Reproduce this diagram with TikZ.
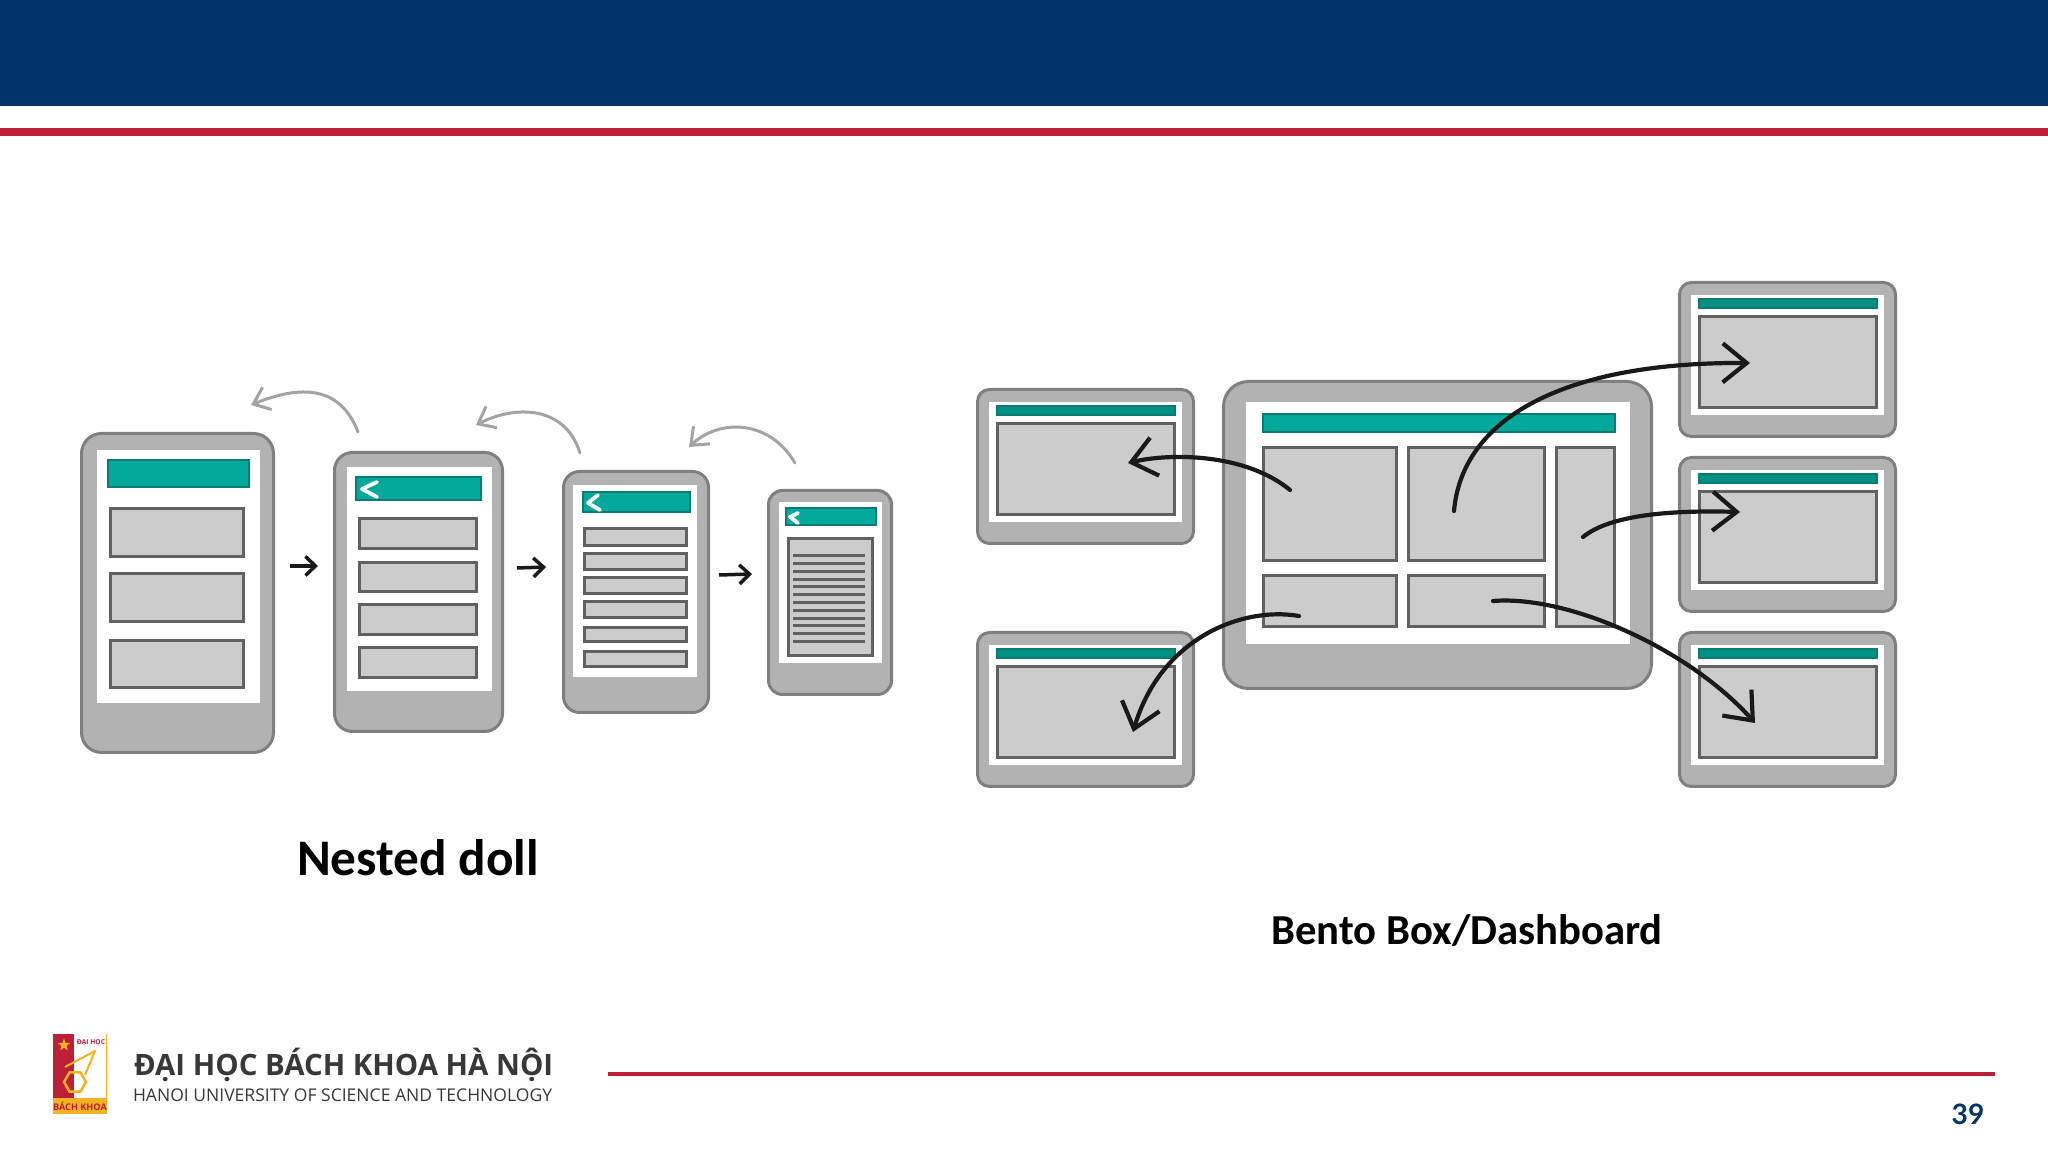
\documentclass[tikz,border=0pt]{standalone}
\usepackage{fontspec}
\setmainfont{Carlito}
\newfontfamily\logofont{Open Sans}
\newfontfamily\numfont{Lato}
\usepackage{tikz}
\usetikzlibrary{arrows.meta, shapes.geometric}
\definecolor{navy}{HTML}{003366}
\definecolor{crimson}{HTML}{BE1E37}
\definecolor{shell}{HTML}{B2B2B2}
\definecolor{shellline}{HTML}{7F7F7F}
\definecolor{card}{HTML}{CCCCCC}
\definecolor{cardline}{HTML}{616161}
\definecolor{teal}{HTML}{00A99A}
\definecolor{tealline}{HTML}{0B7A70}
\definecolor{badge}{HTML}{F4B223}
\tikzset{
every node/.style={anchor=north west,inner sep=0pt,outer sep=0pt},
wh/.style 2 args={minimum width=#1*0.1mm,minimum height=#2*0.1mm},
rim/.style 2 args={minimum width=(#1-3)*0.1mm,minimum height=(#2-3)*0.1mm,xshift=0.15mm,yshift=-0.15mm},
device/.style={draw=shellline,fill=shell,line width=0.3mm,rounded corners=#1*0.1mm},
screen/.style={fill=white},
topbar/.style={fill=teal,draw=tealline,line width=0.2mm},
thinbar/.style={fill=teal!85!black,draw=tealline,line width=0.2mm},
cardbox/.style={fill=card,draw=cardline,line width=0.3mm},
back/.style={white,line width=0.38mm,line cap=round,line join=round},
textline/.style={cardline,line width=0.3mm},
nextarrow/.style={->,>={Straight Barb[length=1mm,width=1.9mm]},line width=0.35mm,black!90},
backarrow/.style={->,>={Straight Barb[length=1.5mm,width=2.4mm]},line width=0.3mm,black!36,line cap=round},
openarrow/.style={->,>={Straight Barb[length=2.4mm,width=3.9mm]},line width=0.42mm,black!90,line cap=round},
}

\begin{document}
\begin{tikzpicture}[x=0.1mm,y=-0.1mm]
\useasboundingbox (0,0) rectangle (2048,1152);
% header
\fill[navy] (0,0) rectangle (2048,106);
\fill[crimson] (0,128) rectangle (2048,136);

% nested doll
\node[device=20,rim={195}{322}] (phone1) at (80,432) {};
\node[screen,wh={163}{253}] (screen1) at (97,450) {};
\node[topbar,rim={144}{30}] (bar1) at (106,459) {};
\node[cardbox,rim={136}{51}] (card11) at (109,507) {};
\node[cardbox,rim={136}{51}] (card12) at (109,572) {};
\node[cardbox,rim={136}{50}] (card13) at (109,639) {};

\node[device=18,rim={171}{282}] (phone2) at (333,451) {};
\node[screen,wh={145}{224}] (screen2) at (347,467) {};
\node[topbar,rim={128}{26}] (bar2) at (354,476) {};
\node[cardbox,rim={120}{33}] (card21) at (358,517) {};
\node[cardbox,rim={120}{32}] (card22) at (358,561) {};
\node[cardbox,rim={120}{33}] (card23) at (358,603) {};
\node[cardbox,rim={120}{33}] (card24) at (358,646) {};
\draw[back] (377,482) -- (362,489) -- (377,497);

\node[device=16,rim={148}{244}] (phone3) at (562,470) {};
\node[screen,wh={124}{192}] (screen3) at (573,485) {};
\node[topbar,rim={110}{23}] (bar3) at (581,491) {};
\node[cardbox,rim={105}{20}] (card31) at (583,527) {};
\node[cardbox,rim={105}{19}] (card32) at (583,552) {};
\node[cardbox,rim={105}{19}] (card33) at (583,576) {};
\node[cardbox,rim={105}{19}] (card34) at (583,600) {};
\node[cardbox,rim={105}{17}] (card35) at (583,626) {};
\node[cardbox,rim={105}{18}] (card36) at (583,650) {};
\draw[back] (598,495) -- (588,503) -- (600,510);

\node[device=14,rim={126}{207}] (phone4) at (767,489) {};
\node[screen,wh={103}{161}] (screen4) at (779,502) {};
\node[topbar,rim={93}{20}] (bar4) at (784,507) {};
\node[cardbox,rim={87}{120}] (card41) at (787,537) {};
\draw[back] (798,513) -- (790,517) -- (798,523);
\draw[textline] (793,556) -- (865,556) (793,564) -- (865,564) (793,572) -- (865,572)
(793,580) -- (865,580) (793,587) -- (865,587) (793,595) -- (865,595)
(793,603) -- (865,603) (793,611) -- (865,611) (793,619) -- (865,619)
(793,626) -- (865,626) (793,634) -- (865,634) (793,642) -- (865,642);

\coordinate (go1a) at (290,566);
\coordinate (go1b) at (318,566);
\coordinate (go2a) at (517,568);
\coordinate (go2b) at (546,567);
\coordinate (go3a) at (719,575);
\coordinate (go3b) at (752,574);
\draw[nextarrow] (go1a) -- (go1b);
\draw[nextarrow] (go2a) -- (go2b);
\draw[nextarrow] (go3a) -- (go3b);

\coordinate (up1a) at (358,432);
\coordinate (up1b) at (251,405);
\coordinate (up2a) at (580,453);
\coordinate (up2b) at (476,425);
\coordinate (up3a) at (795,463);
\coordinate (up3b) at (689,447);
\draw[backarrow] (up1a) .. controls (340,385) and (300,385) .. (up1b);
\draw[backarrow] (up2a) .. controls (565,405) and (515,405) .. (up2b);
\draw[backarrow] (up3a) .. controls (770,420) and (720,418) .. (up3b);

% bento box
\node[device=25,rim={431}{310}] (main) at (1222,380) {};
\node[screen,wh={384}{242}] (mainscreen) at (1246,402) {};
\node[topbar,rim={355}{21}] (mainbar) at (1261,413) {};
\node[cardbox,rim={136}{116}] (cella) at (1262,446) {};
\node[cardbox,rim={139}{116}] (cellb) at (1407,446) {};
\node[cardbox,rim={61}{182}] (cellc) at (1555,446) {};
\node[cardbox,rim={136}{54}] (celld) at (1262,574) {};
\node[cardbox,rim={139}{54}] (celle) at (1407,574) {};

\node[device=12,rim={219}{157}] (left1) at (976,388) {};
\node[screen,wh={193}{120}] (left1screen) at (989,402) {};
\node[thinbar,rim={181}{12}] (left1bar) at (995,405) {};
\node[cardbox,rim={180}{94}] (left1box) at (996,422) {};

\node[device=12,rim={219}{157}] (left2) at (976,631) {};
\node[screen,wh={193}{120}] (left2screen) at (989,645) {};
\node[thinbar,rim={181}{12}] (left2bar) at (995,648) {};
\node[cardbox,rim={180}{94}] (left2box) at (996,665) {};

\node[device=12,rim={219}{157}] (right1) at (1678,281) {};
\node[screen,wh={193}{120}] (right1screen) at (1691,295) {};
\node[thinbar,rim={181}{12}] (right1bar) at (1697,298) {};
\node[cardbox,rim={180}{94}] (right1box) at (1698,315) {};

\node[device=12,rim={219}{157}] (right2) at (1678,456) {};
\node[screen,wh={193}{120}] (right2screen) at (1691,470) {};
\node[thinbar,rim={181}{12}] (right2bar) at (1697,473) {};
\node[cardbox,rim={180}{94}] (right2box) at (1698,490) {};

\node[device=12,rim={219}{157}] (right3) at (1678,631) {};
\node[screen,wh={193}{120}] (right3screen) at (1691,645) {};
\node[thinbar,rim={181}{12}] (right3bar) at (1697,648) {};
\node[cardbox,rim={180}{94}] (right3box) at (1698,665) {};

\coordinate (froma) at (1290,490);
\coordinate (toa) at (1128,463);
\coordinate (fromd) at (1299,616);
\coordinate (tod) at (1133,732);
\coordinate (fromb) at (1454,511);
\coordinate (tob) at (1750,363);
\coordinate (fromc) at (1583,537);
\coordinate (toc) at (1740,512);
\coordinate (frome) at (1493,601);
\coordinate (toe) at (1755,723);
\draw[openarrow] (froma) .. controls (1245,453) and (1170,453) .. (toa);
\draw[openarrow] (fromd) .. controls (1240,606) and (1160,640) .. (tod);
\draw[openarrow] (fromb) .. controls (1462,420) and (1560,362) .. (tob);
\draw[openarrow] (fromc) .. controls (1610,515) and (1670,510) .. (toc);
\draw[openarrow] (frome) .. controls (1570,595) and (1690,650) .. (toe);

% captions
\node[anchor=center,font=\fontsize{14.6pt}{16pt}\bfseries] (doll) at (418,858) {Nested doll};
\node[anchor=center,font=\fontsize{12.15pt}{15pt}\bfseries] (bento) at (1467,930) {Bento Box/Dashboard};

% footer
\fill[badge] (53,1034) rectangle (107,1114);
\fill[white] (74,1034) rectangle (106,1098);
\fill[crimson] (53,1034) rectangle (74,1098);
\node[star,star points=5,star point ratio=2.4,fill=badge,minimum size=1.3mm,anchor=center] (logostar) at (64,1045) {};
\draw[badge,line width=0.2mm,line join=round] (65,1067) -- (95,1051) -- (85,1075);
\node[regular polygon,regular polygon sides=6,draw=badge,line width=0.25mm,minimum size=2.2mm,anchor=center] (logohex) at (75,1082) {};
\node[anchor=center,font=\logofont\bfseries\fontsize{1.9pt}{2pt}\selectfont,text=crimson] (logotop) at (91,1043) {ĐẠI HỌC};
\node[anchor=center,font=\logofont\bfseries\fontsize{2.6pt}{3pt}\selectfont,text=crimson] (logobottom) at (80,1106) {BÁCH KHOA};
\node[anchor=west,font=\logofont\bfseries\fontsize{8.37pt}{10pt}\selectfont,text=black!78] (school) at (134,1065) {ĐẠI HỌC BÁCH KHOA HÀ NỘI};
\node[anchor=west,font=\logofont\fontsize{4.99pt}{7pt}\selectfont,text=black!78] (schoolen) at (133,1095) {HANOI UNIVERSITY OF SCIENCE AND TECHNOLOGY};
\coordinate (rulea) at (608,1074);
\coordinate (ruleb) at (1995,1074);
\draw[crimson,line width=0.32mm] (rulea) -- (ruleb);
\node[anchor=center,font=\numfont\bfseries\fontsize{8pt}{10pt}\selectfont,text=navy] (pageno) at (1968,1114) {39};
\end{tikzpicture}
\end{document}
